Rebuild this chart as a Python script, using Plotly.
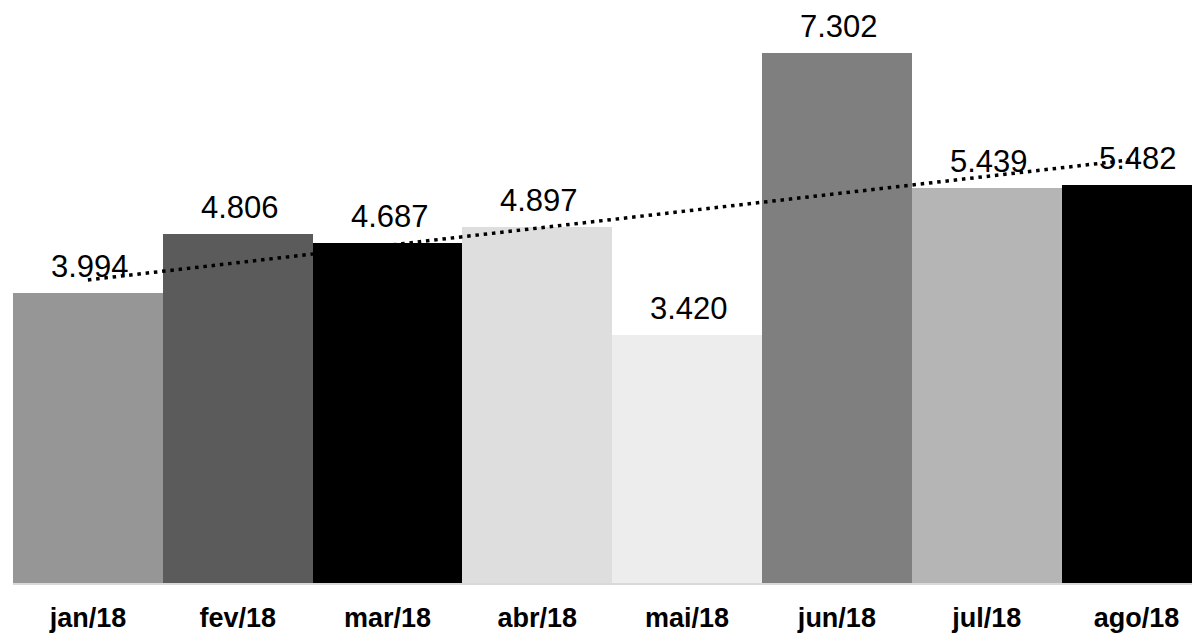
import numpy as np
import plotly.graph_objects as go

months = ["jan/18", "fev/18", "mar/18", "abr/18", "mai/18", "jun/18", "jul/18", "ago/18"]
values = [3994, 4806, 4687, 4897, 3420, 7302, 5439, 5482]
colors = ["#969696", "#5b5b5b", "#000000", "#dedede", "#ededed", "#7f7f7f", "#b5b5b5", "#000000"]

# linear trend line (as in the reference: linear trendline of the series)
idx = np.arange(len(values))
slope, intercept = np.polyfit(idx, values, 1)
trend = [slope * i + intercept for i in idx]

fig = go.Figure()
fig.add_trace(go.Bar(
    x=months, y=values, marker=dict(color=colors, line=dict(width=0)),
    hoverinfo="skip", showlegend=False,
))
fig.add_trace(go.Scatter(
    x=months, y=trend, mode="lines",
    line=dict(color="#000000", width=3.5, dash="3.5px,4.8px"),
    hoverinfo="skip", showlegend=False,
))

annotations = []
for m, v in zip(months, values):
    annotations.append(dict(
        x=m, y=v, xref="x", yref="y", text=f"{v:,}".replace(",", "."),
        showarrow=False, yanchor="bottom", xanchor="center", yshift=7, xshift=2,
        font=dict(family="Liberation Sans, Arial", size=31, color="#000000"),
    ))

fig.update_layout(
    width=1192, height=634,
    margin=dict(l=5, r=0, t=0, b=59),
    paper_bgcolor="white", plot_bgcolor="white",
    bargap=0,
    annotations=annotations,
    xaxis=dict(
        type="category", range=[-0.5, 7.424], showgrid=False, zeroline=False,
        showline=True, linecolor="#d9d9d9", linewidth=2,
        ticks="", ticklabelstandoff=10, automargin=False,
        tickfont=dict(family="Liberation Sans, Arial", size=27, color="#000000", weight="bold"),
    ),
    yaxis=dict(range=[0, 7915], visible=False, showgrid=False, zeroline=False, automargin=False),
)

fig.write_html("out.html")
